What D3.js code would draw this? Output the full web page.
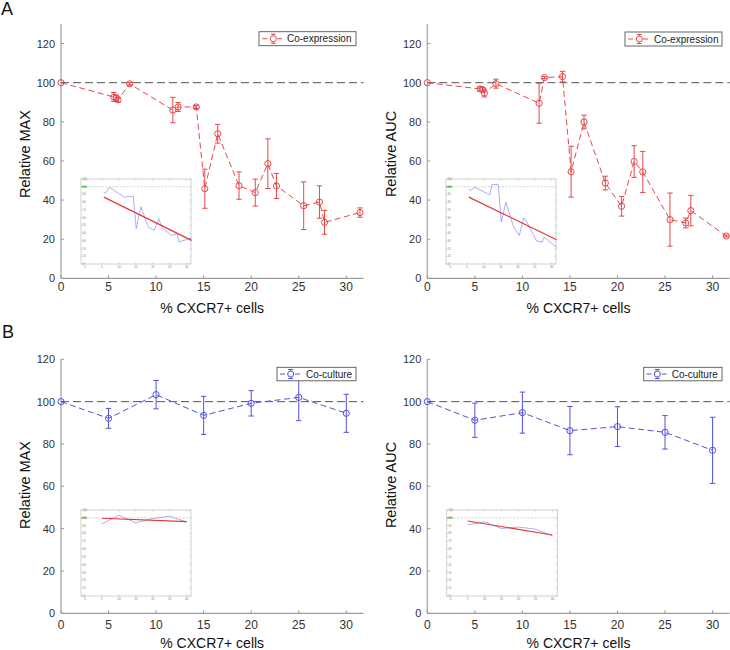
<!DOCTYPE html>
<html><head><meta charset="utf-8">
<script src="https://cdn.jsdelivr.net/npm/d3@7"></script>
<style>
html,body{margin:0;padding:0;background:#fff;}
svg{display:block;font-family:"Liberation Sans",Arial,Helvetica,sans-serif;}
</style></head>
<body><svg id="c" width="730" height="650"></svg>
<script>
// ---------- data ----------
const xCoexp = [0, 5.55, 5.8, 6.0, 7.22, 11.76, 12.32, 14.22, 15.12, 16.48, 18.72, 20.43, 21.75, 22.66, 25.52, 27.18, 27.71, 31.44];
const coexpMax    = [100, 92.7, 92.2, 91.3, 99.4, 86.0, 87.6, 87.6, 45.8, 73.9, 47.4, 43.8, 58.6, 47.2, 37.1, 39.0, 28.6, 33.6];
const coexpMaxErr = [0, 2.3, 1.5, 1.2, 0.7, 6.5, 2.3, 0.8, 10.0, 4.8, 7.0, 6.9, 12.7, 6.4, 12.2, 8.3, 6.1, 2.4];
const coexpAuc    = [100, 96.8, 96.5, 94.7, 99.5, 89.5, 102.6, 103.1, 54.5, 79.9, 48.7, 36.8, 59.7, 54.4, 30.0, 28.3, 34.6, 21.6];
const coexpAucErr = [0, 1.0, 1.0, 2.0, 2.3, 10.2, 0.5, 2.7, 13.0, 3.5, 3.5, 5.0, 8.1, 10.5, 13.6, 2.5, 7.8, 0.5];

const xCult = [0, 5, 10, 15, 20, 25, 30];
const cultMax    = [100, 92.1, 103.3, 93.5, 99.2, 102.0, 94.5];
const cultMaxErr = [0, 4.7, 6.7, 9.0, 6.0, 11.0, 9.0];
const cultAuc    = [100, 91.2, 94.8, 86.3, 88.2, 85.5, 77.0];
const cultAucErr = [0, 8.1, 9.7, 11.4, 9.4, 7.9, 15.6];

// linear fits shown in the insets: [intercept, slope]
const fitCoexpMax = [98.6, -2.165];
const fitCoexpAuc = [98.4, -2.13];
const fitCultMax  = [100.3, -0.176];
const fitCultAuc  = [99.5, -0.716];

const xTicks = [0, 5, 10, 15, 20, 25, 30];
const yTicks = [0, 20, 40, 60, 80, 100, 120];
const insetYTicks = [0,10,20,30,40,50,60,70,80,90,100,110];
const refValue = 100;

// ---------- layout ----------
const RED = "#e8474b", BLUE = "#5252dc";
const panels = [
  {x0:61, x1:363.4, yTop:24, yBot:278.3, yMax:130, xs:xCoexp, ys:coexpMax, es:coexpMaxErr, color:RED,
   ylab:"Relative MAX", ylabX:30, ylabY:154, legend:"Co-expression", lg:{x:259,y:31.7,w:97,h:14,mx:273.3,l0:262.3,l1:282,tx:287},
   fit:fitCoexpMax, inset:{l:81,t:179,w:110,h:85}, xlabY:313, xtY:290.5},
  {x0:427.3, x1:729.7, yTop:24, yBot:278.3, yMax:130, xs:xCoexp, ys:coexpAuc, es:coexpAucErr, color:RED,
   ylab:"Relative AUC", ylabX:396, ylabY:154, legend:"Co-expression", lg:{x:625,y:32,w:97,h:14,mx:639.3,l0:628,l1:648,tx:654},
   fit:fitCoexpAuc, inset:{l:446,t:179,w:110,h:85}, xlabY:313, xtY:290.5},
  {x0:61, x1:363.4, yTop:359.3, yBot:613.3, yMax:120, xs:xCult, ys:cultMax, es:cultMaxErr, color:BLUE,
   ylab:"Relative MAX", ylabX:30, ylabY:485, legend:"Co-culture", lg:{x:277,y:367.3,w:79,h:13.5,mx:290.7,l0:280,l1:301,tx:306},
   fit:fitCultMax, inset:{l:81,t:510,w:110,h:86}, xlabY:648, xtY:628.5},
  {x0:427.3, x1:729.7, yTop:359.3, yBot:613.3, yMax:120, xs:xCult, ys:cultAuc, es:cultAucErr, color:BLUE,
   ylab:"Relative AUC", ylabX:396, ylabY:485, legend:"Co-culture", lg:{x:643.7,y:367.3,w:78.3,h:13.5,mx:657.3,l0:646.5,l1:667.5,tx:671.7},
   fit:fitCultAuc, inset:{l:446.7,t:510,w:110.6,h:86}, xlabY:648, xtY:628.5}
];

const svg = d3.select("#c");
const AX = "#9a9a9a", TXT = "#333";

svg.append("text").attr("x",1).attr("y",15).attr("font-size",18).attr("fill","#111").text("A");
svg.append("text").attr("x",2).attr("y",338).attr("font-size",18).attr("fill","#111").text("B");

panels.forEach(p => {
  const g = svg.append("g");
  const x = d3.scaleLinear().domain([0, 31.8]).range([p.x0, p.x1]);
  const y = d3.scaleLinear().domain([0, p.yMax]).range([p.yBot, p.yTop]);

  // axes lines
  g.append("line").attr("x1",p.x0).attr("x2",p.x1).attr("y1",p.yBot).attr("y2",p.yBot).attr("stroke",AX).attr("stroke-width",1.2);
  g.append("line").attr("x1",p.x0).attr("x2",p.x0).attr("y1",p.yBot).attr("y2",p.yTop).attr("stroke","#b8b8b8").attr("stroke-width",1.6);

  xTicks.forEach(t => {
    g.append("line").attr("x1",x(t)).attr("x2",x(t)).attr("y1",p.yBot).attr("y2",p.yBot-3).attr("stroke",AX);
    g.append("text").attr("x",x(t)).attr("y",p.xtY).attr("text-anchor","middle").attr("font-size",12).attr("fill",TXT).text(t);
  });
  yTicks.forEach(t => {
    g.append("line").attr("x1",p.x0).attr("x2",p.x0+3).attr("y1",y(t)).attr("y2",y(t)).attr("stroke",AX);
    g.append("text").attr("x",p.x0-6).attr("y",y(t)+4).attr("text-anchor","end").attr("font-size",11).attr("fill",TXT).text(t);
  });

  g.append("text").attr("transform",`translate(${p.ylabX},${p.ylabY}) rotate(-90)`).attr("text-anchor","middle")
    .attr("font-size",14.5).attr("fill","#111").text(p.ylab);
  g.append("text").attr("x",(p.x0+p.x1)/2).attr("y",p.xlabY).attr("text-anchor","middle")
    .attr("font-size",14).attr("fill","#111").text("% CXCR7+ cells");

  // reference line
  g.append("line").attr("x1",p.x0).attr("x2",p.x1).attr("y1",y(refValue)).attr("y2",y(refValue))
    .attr("stroke","#555").attr("stroke-width",1).attr("stroke-dasharray","8,4");

  // inset
  const b = p.inset;
  const ig = g.append("g");
  ig.append("rect").attr("x",b.l).attr("y",b.t).attr("width",b.w).attr("height",b.h).attr("fill","#fff").attr("stroke","#c6c6c6").attr("stroke-width",0.8);
  const ix = d3.scaleLinear().domain([0,30]).range([b.l+4, b.l+105.7]);
  const iy = d3.scaleLinear().domain([0,110]).range([b.t+b.h, b.t]);
  xTicks.forEach(t => {
    ig.append("line").attr("x1",ix(t)).attr("x2",ix(t)).attr("y1",b.t+b.h).attr("y2",b.t+b.h-1.5).attr("stroke","#aaa").attr("stroke-width",0.5);
    ig.append("line").attr("x1",ix(t)).attr("x2",ix(t)).attr("y1",b.t).attr("y2",b.t+1.5).attr("stroke","#aaa").attr("stroke-width",0.5);
    ig.append("text").attr("x",ix(t)).attr("y",b.t+b.h+4).attr("text-anchor","middle").attr("font-size",3).attr("fill","#777").text(t);
  });
  insetYTicks.forEach(t => {
    ig.append("line").attr("x1",b.l).attr("x2",b.l+1.5).attr("y1",iy(t)).attr("y2",iy(t)).attr("stroke","#aaa").attr("stroke-width",0.5);
    ig.append("line").attr("x1",b.l+b.w).attr("x2",b.l+b.w-1.5).attr("y1",iy(t)).attr("y2",iy(t)).attr("stroke","#aaa").attr("stroke-width",0.5);
    ig.append("text").attr("x",b.l+1.8).attr("y",iy(t)+1).attr("font-size",2.6).attr("fill","#777").text(t);
  });
  ig.append("line").attr("x1",b.l).attr("x2",b.l+b.w).attr("y1",iy(refValue)).attr("y2",iy(refValue))
    .attr("stroke","#a8d4a0").attr("stroke-width",0.7).attr("stroke-dasharray","2,1.5");
  ig.append("line").attr("x1",b.l+0.5).attr("x2",ix(0)+1.5).attr("y1",iy(refValue)).attr("y2",iy(refValue))
    .attr("stroke","#3cbf3c").attr("stroke-width",1.2);
  const ipts = p.xs.map((v,i)=>[v,p.ys[i]]).filter(d=>d[0]>0);
  ig.append("path").attr("d", d3.line().x(d=>ix(d[0])).y(d=>iy(d[1]))(ipts))
    .attr("fill","none").attr("stroke","#8a8af0").attr("stroke-width",0.7);
  const fx = d3.extent(ipts, d=>d[0]);
  ig.append("path").attr("d", d3.line().x(d=>ix(d)).y(d=>iy(p.fit[0]+p.fit[1]*d))(fx))
    .attr("fill","none").attr("stroke","#e23838").attr("stroke-width",1.2);

  // series
  const pts = p.xs.map((v,i)=>({x:v,y:p.ys[i],e:p.es[i]}));
  g.append("path").attr("d", d3.line().x(d=>x(d.x)).y(d=>y(d.y))(pts))
    .attr("fill","none").attr("stroke",p.color).attr("stroke-width",1).attr("stroke-dasharray","6,3.5");
  pts.forEach(d => {
    if (d.e > 0) {
      const cx = x(d.x), t = y(d.y+d.e), bt = y(d.y-d.e);
      g.append("line").attr("x1",cx).attr("x2",cx).attr("y1",t).attr("y2",bt).attr("stroke",p.color);
      g.append("line").attr("x1",cx-2.7).attr("x2",cx+2.7).attr("y1",t).attr("y2",t).attr("stroke",p.color);
      g.append("line").attr("x1",cx-2.7).attr("x2",cx+2.7).attr("y1",bt).attr("y2",bt).attr("stroke",p.color);
    }
    g.append("circle").attr("cx",x(d.x)).attr("cy",y(d.y)).attr("r",3.1).attr("fill","none").attr("stroke",p.color).attr("stroke-width",1);
  });

  // legend
  const L = p.lg, my = L.y + L.h/2;
  g.append("rect").attr("x",L.x).attr("y",L.y).attr("width",L.w).attr("height",L.h).attr("fill","#fff").attr("stroke","#555").attr("stroke-width",0.9);
  g.append("line").attr("x1",L.l0).attr("x2",L.l1).attr("y1",my).attr("y2",my).attr("stroke",p.color).attr("stroke-dasharray","5,2.5");
  g.append("line").attr("x1",L.mx).attr("x2",L.mx).attr("y1",my-4.5).attr("y2",my+4.5).attr("stroke",p.color);
  g.append("line").attr("x1",L.mx-2.5).attr("x2",L.mx+2.5).attr("y1",my-4.5).attr("y2",my-4.5).attr("stroke",p.color);
  g.append("line").attr("x1",L.mx-2.5).attr("x2",L.mx+2.5).attr("y1",my+4.5).attr("y2",my+4.5).attr("stroke",p.color);
  g.append("circle").attr("cx",L.mx).attr("cy",my).attr("r",3).attr("fill","#fff").attr("stroke",p.color);
  g.append("text").attr("x",L.tx).attr("y",my+3.6).attr("font-size",10).attr("fill","#222").text(p.legend);
});
</script></body></html>
